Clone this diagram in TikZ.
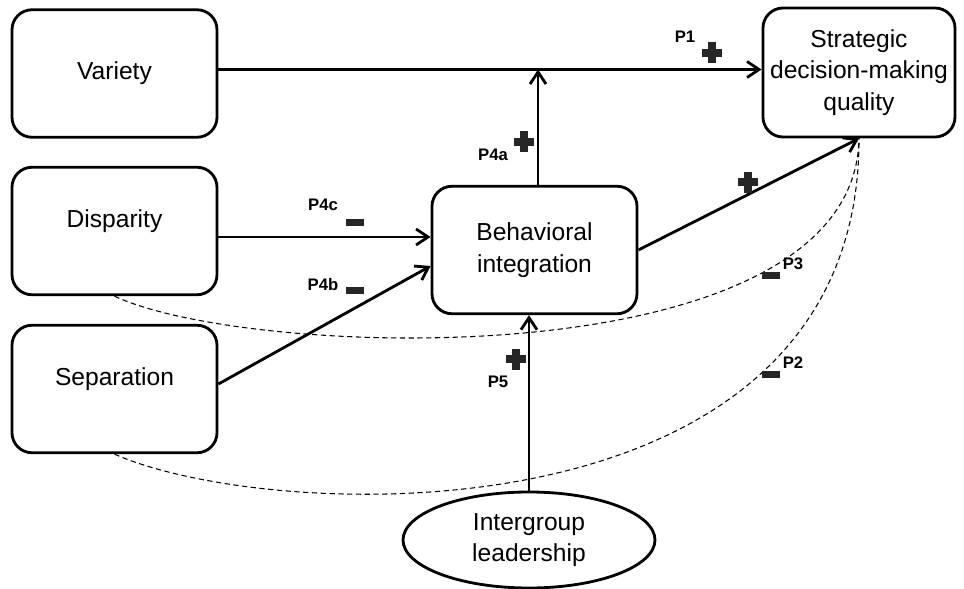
\documentclass[tikz,border=0pt]{standalone}
\usepackage{fontspec}
\setmainfont{Liberation Sans}
\usepackage{tikz}
\usetikzlibrary{arrows.meta,positioning,calc,shapes.geometric}

\begin{document}
\begin{tikzpicture}[
  >={Straight Barb[length=2.4mm,width=3.2mm]},
  construct/.style={draw,rounded corners=4mm,line width=1.6pt,minimum width=4.1cm,
    minimum height=2.55cm,align=center,inner sep=2pt,font=\fontsize{14}{18}\selectfont},
  raised/.style={text depth=0.5cm},
  moderator/.style={draw,ellipse,line width=1.6pt,minimum width=5.04cm,minimum height=1.92cm,
    inner sep=0pt,align=center,font=\fontsize{14}{18}\selectfont},
  arc/.style={->,line width=1.6pt},
  weak/.style={line width=0.6pt,dash pattern=on 3pt off 2pt},
  prop/.style={inner sep=0pt,font=\fontsize{9.5}{11}\selectfont\bfseries},
  sgnplus/.style={minimum width=0.4cm,minimum height=0.42cm,inner sep=0pt,
    path picture={
      \fill[black!85] ([xshift=-0.08cm]path picture bounding box.north) rectangle ([xshift=0.08cm]path picture bounding box.south);
      \fill[black!85] ([yshift=-0.08cm]path picture bounding box.west) rectangle ([yshift=0.08cm]path picture bounding box.east);}},
  sgnminus/.style={minimum width=0.36cm,minimum height=0.14cm,inner sep=0pt,fill=black!85}
]
  \useasboundingbox (0,0) rectangle (19.28,-11.78);

  \node[construct] (variety) at (2.29,-1.47) {Variety};
  \node[construct,raised] (disparity) at (2.29,-4.62) {Disparity};
  \node[construct,raised] (separation) at (2.29,-7.78) {Separation};
  \node[construct] (bi) at (10.69,-5.0) {Behavioral\\integration};
  \node[construct,minimum width=3.84cm,minimum height=2.58cm] (sdq) at (17.18,-1.45)
    {Strategic\\decision-making\\quality};
  \node[moderator] (igl) at (10.58,-10.8) {Intergroup\\leadership};

  \coordinate (junc) at ($(10.76,0)!(variety.east)!(10.76,-1)$);

  \draw[arc] ([yshift=0.08cm]variety.east) -- ([yshift=0.08cm]variety.east -| sdq.west);
  \draw[arc] (junc |- bi.north) -- ([yshift=0.08cm]junc);
  \draw[arc] ([yshift=-0.12cm]disparity.east) -- ([yshift=-0.12cm]disparity.east -| bi.west);
  \draw[arc] ([yshift=0.1cm]separation.east) -- ([yshift=-0.32cm]bi.west);
  \draw[arc] (bi.east) -- (sdq.south);
  \draw[arc] (igl.north) -- (igl.north |- bi.south);

  \draw[weak] (disparity.south) .. controls (5,-7.2) and (17.1,-7.6) .. (sdq.south);
  \draw[weak] (separation.south) .. controls (5.5,-10.5) and (17.2,-10.9) .. (sdq.south);

  \node[prop] (p1) at (13.7,-0.74) {P1};
  \node[sgnplus] (s1) at (14.24,-1.06) {};
  \node[prop] (p4a) at (9.86,-3.1) {P4a};
  \node[sgnplus] (s4a) at (10.48,-2.84) {};
  \node[sgnplus] (sbi) at (14.96,-3.64) {};
  \node[prop] (p4c) at (6.46,-4.1) {P4c};
  \node[sgnminus] (s4c) at (7.1,-4.44) {};
  \node[prop] (p4b) at (6.46,-5.7) {P4b};
  \node[sgnminus] (s4b) at (7.1,-5.8) {};
  \node[prop] (p3) at (15.86,-5.28) {P3};
  \node[sgnminus] (s3) at (15.42,-5.5) {};
  \node[prop] (p2) at (15.86,-7.26) {P2};
  \node[sgnminus] (s2) at (15.42,-7.48) {};
  \node[prop] (p5) at (9.96,-7.64) {P5};
  \node[sgnplus] (s5) at (10.32,-7.18) {};
\end{tikzpicture}
\end{document}
